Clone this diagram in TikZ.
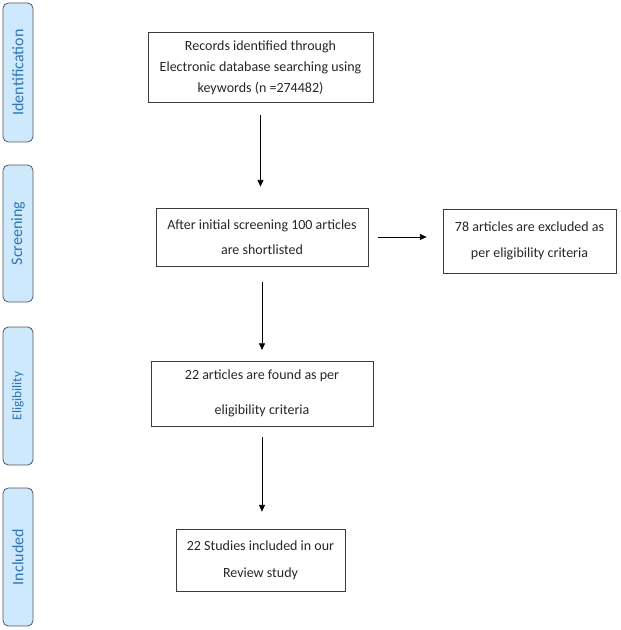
\documentclass[tikz,border=0pt]{standalone}
\usepackage{fontspec}
\setmainfont{Carlito}
\usetikzlibrary{arrows.meta,calc}

\tikzset{
  phase/.style={draw=phasebord,fill=phasefond,rounded corners=4pt,line width=0.6pt,
    minimum height=30*0.75pt,text=phasetexte,font=\fontsize{12}{14}\selectfont,
    inner sep=0pt,rotate=90},
  etape/.style={draw=etapebord,line width=0.6pt,align=center,inner sep=0pt,
    text=black!85,font=\fontsize{10.5}{15.75}\selectfont},
  fleche/.style={-{Triangle[length=5pt,width=4.5pt]},line width=0.5pt}
}

\begin{document}
\begin{tikzpicture}[x=0.75pt,y=-0.75pt]

\definecolor{phasefond}{RGB}{206,232,252}
\definecolor{phasebord}{RGB}{85,90,95}
\definecolor{phasetexte}{RGB}{46,117,182}
\definecolor{etapebord}{RGB}{60,60,60}

\useasboundingbox (0,0) rectangle (620,630);

% phases on the left
\node[phase,minimum width=139*0.75pt] (ident) at (18,72.5) {Identification};
\node[phase,minimum width=137*0.75pt] (screen) at (18,233.5) {Screening};
\node[phase,minimum width=138*0.75pt,font=\fontsize{10}{12}\selectfont] (elig) at (18,396) {Eligibility};
\node[phase,minimum width=138*0.75pt] (incl) at (18,557) {Included};

% boxes
\node[etape,minimum width=225*0.75pt,minimum height=70*0.75pt] (records) at (260.5,67.5)
  {Records identified through\\Electronic database searching using\\keywords (n =274482)};
\node[etape,minimum width=212*0.75pt,minimum height=58*0.75pt,font=\fontsize{10.5}{18.75}\selectfont] (shortlist) at (262,237)
  {After initial screening 100 articles\\are shortlisted};
\node[etape,minimum width=173*0.75pt,minimum height=64*0.75pt,font=\fontsize{10.5}{20}\selectfont] (excluded) at (529.5,241)
  {78 articles are excluded as\\per eligibility criteria};
\node[etape,minimum width=222*0.75pt,minimum height=65*0.75pt,font=\fontsize{10.5}{26}\selectfont] (found) at (262,393.5)
  {22 articles are found as per\\eligibility criteria};
\node[etape,minimum width=169*0.75pt,minimum height=62*0.75pt,font=\fontsize{10.5}{20}\selectfont] (studies) at (260.5,560)
  {22 Studies included in our\\Review study};

% arrows
\draw[fleche,shorten <=9pt,shorten >=15.75pt] (records.south) -- (records.south |- shortlist.north);
\draw[fleche,shorten <=7pt,shorten >=12pt] (shortlist.east) -- (shortlist.east -| excluded.west);
\draw[fleche,shorten <=12pt,shorten >=8pt] (shortlist.south) -- (shortlist.south |- found.north);
\draw[fleche,shorten <=8pt,shorten >=12.75pt] (found.south) -- (found.south |- studies.north);

\end{tikzpicture}
\end{document}
